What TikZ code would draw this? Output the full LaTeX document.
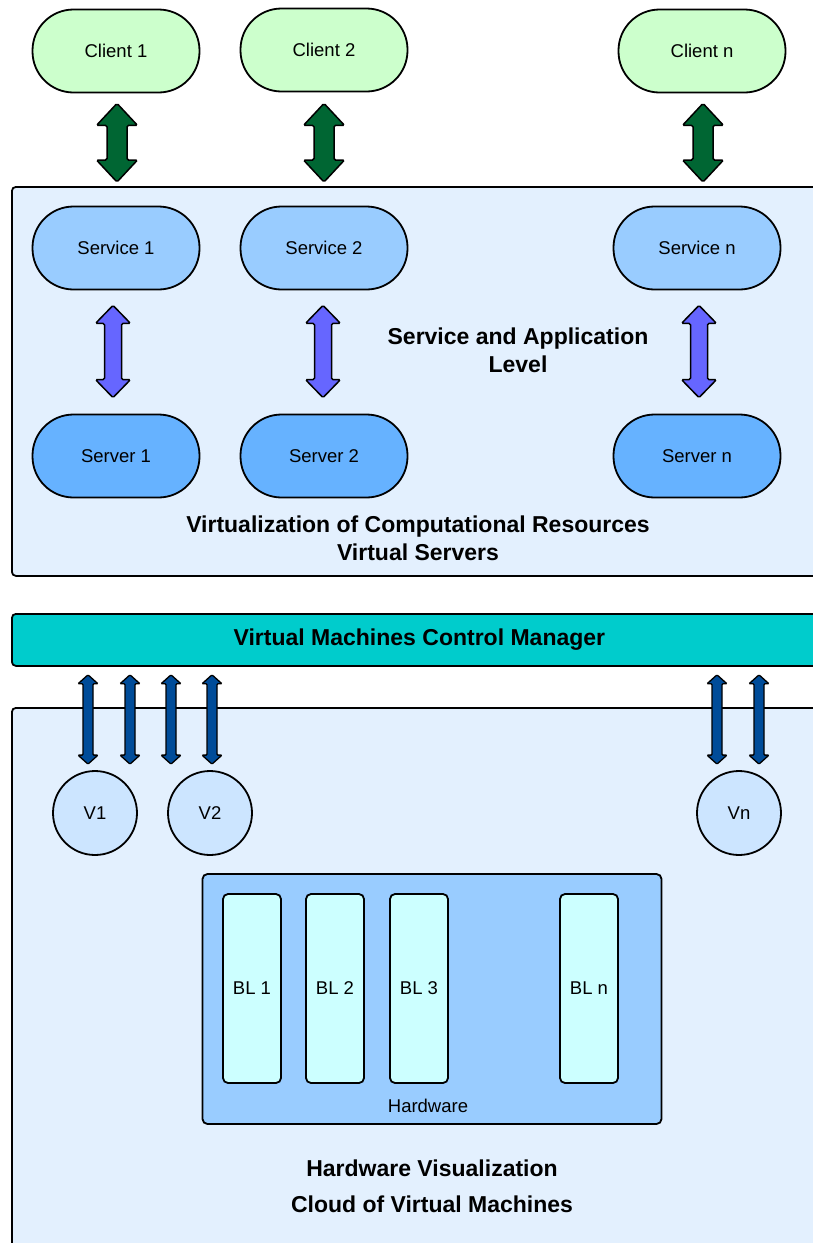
\documentclass[tikz,border=0pt]{standalone}
\usepackage{fontspec}
\setmainfont{Liberation Sans}
\usetikzlibrary{calc}
\definecolor{panelfill}{HTML}{E3F0FE}
\definecolor{clientfill}{HTML}{CCFFCC}
\definecolor{servicefill}{HTML}{99CCFF}
\definecolor{serverfill}{HTML}{66B2FF}
\definecolor{vfill}{HTML}{CCE5FF}
\definecolor{blfill}{HTML}{CCFFFF}
\definecolor{mgrfill}{HTML}{00CCCC}
\definecolor{greenarr}{HTML}{006633}
\definecolor{purplearr}{HTML}{6666FF}
\definecolor{bluearr}{HTML}{004C99}
\newcommand\dblarr[6]{\path[#1] let \p1=(#2), \p2=(#3) in
  (\x1,\y1) -- (\x1+#5,\y1-#6) -- (\x1+#4,\y1-#6) -- (\x1+#4,\y2+#6) -- (\x1+#5,\y2+#6)
  -- (\x1,\y2) -- (\x1-#5,\y2+#6) -- (\x1-#4,\y2+#6) -- (\x1-#4,\y1-#6) -- (\x1-#5,\y1-#6) -- cycle;}
\tikzset{
  outl/.style={draw=black, line width=1.8pt},
  reg/.style={font=\fontsize{18.5}{22}\selectfont},
  boldlbl/.style={font=\fontsize{23}{28}\selectfont\bfseries, align=center},
  pill/.style={outl, reg, rectangle, rounded corners=41pt, minimum width=167pt, minimum height=83pt},
  client/.style={pill, fill=clientfill},
  service/.style={pill, fill=servicefill},
  server/.style={pill, fill=serverfill},
  panel/.style={outl, fill=panelfill, rounded corners=4pt, anchor=north west},
  vm/.style={outl, reg, circle, fill=vfill, minimum size=84pt, inner sep=0pt},
  blade/.style={outl, reg, fill=blfill, rounded corners=5pt, minimum width=58pt, minimum height=189pt},
  garrow/.style={draw=black, line width=1.5pt, fill=greenarr, rounded corners=1.5pt},
  parrow/.style={draw=black, line width=1.5pt, fill=purplearr, rounded corners=1.5pt},
  barrow/.style={draw=black, line width=1.3pt, fill=bluearr, rounded corners=1pt},
}
\begin{document}
\begin{tikzpicture}[x=1pt, y=-1pt]
\useasboundingbox (0,0) rectangle (813,1243);
\clip (0,0) rectangle (813,1243);
% panels
\node[panel, minimum width=830pt, minimum height=389pt] (upper) at (11,186) {};
\node[panel, fill=mgrfill, minimum width=815pt, minimum height=52pt, boldlbl] (mgr) at (11,613) {Virtual Machines Control Manager};
\node[panel, minimum width=830pt, minimum height=600pt] (lower) at (11,707) {};
% clients
\node[client] (c1) at (116,51) {Client 1};
\node[client] (c2) at (324,50) {Client 2};
\node[client] (cn) at (702,51) {Client n};
% services
\node[service] (s1) at (116,248) {Service 1};
\node[service] (s2) at (324,248) {Service 2};
\node[service] (sn) at (697,248) {Service n};
% servers
\node[server] (v1) at (116,456) {Server 1};
\node[server] (v2) at (324,456) {Server 2};
\node[server] (vn) at (697,456) {Server n};
% labels
\node[boldlbl] (lvl) at (518,350) {Service and Application\\Level};
\node[boldlbl] (virt) at (418,538) {Virtualization of Computational Resources\\Virtual Servers};
% virtual machines
\node[vm] (V1) at (95,813) {V1};
\node[vm] (V2) at (210,813) {V2};
\node[vm] (Vn) at (739,813) {Vn};
% hardware
\node[outl, fill=servicefill, rounded corners=5pt, minimum width=459pt, minimum height=250pt] (hw) at (432,999) {};
\node[reg] (hwl) at (428,1106) {Hardware};
\node[blade] (b1) at (252,988.5) {BL 1};
\node[blade] (b2) at (335,988.5) {BL 2};
\node[blade] (b3) at (419,988.5) {BL 3};
\node[blade] (bn) at (589,988.5) {BL n};
\node[boldlbl] (hv) at (432,1168) {Hardware Visualization};
\node[boldlbl] (cv) at (432,1204) {Cloud of Virtual Machines};
% green arrows
\dblarr{garrow}{$(c1.south)+(1,10)$}{$(c1.south |- upper.north)+(1,-4)$}{10pt}{20.5pt}{22pt}
\dblarr{garrow}{$(c2.south)+(0,11)$}{$(c2.south |- upper.north)+(0,-4)$}{10pt}{20.5pt}{22pt}
\dblarr{garrow}{$(cn.south)+(1,10)$}{$(cn.south |- upper.north)+(1,-4)$}{10pt}{20.5pt}{22pt}
% purple arrows
\dblarr{parrow}{$(s1.south)+(-3,15)$}{$(v1.north)+(-3,-16)$}{8.5pt}{17.5pt}{18pt}
\dblarr{parrow}{$(s2.south)+(-1,15)$}{$(v2.north)+(-1,-16)$}{8.5pt}{17.5pt}{18pt}
\dblarr{parrow}{$(sn.south)+(2,15)$}{$(vn.north)+(2,-16)$}{8.5pt}{17.5pt}{18pt}
% blue arrows
\dblarr{barrow}{$(V1.north |- mgr.south)+(-7,8)$}{$(V1.north)+(-7,-6)$}{5pt}{10pt}{9pt}
\dblarr{barrow}{$(V1.north |- mgr.south)+(35,8)$}{$(V1.north)+(35,-6)$}{5pt}{10pt}{9pt}
\dblarr{barrow}{$(V2.north |- mgr.south)+(-39,8)$}{$(V2.north)+(-39,-6)$}{5pt}{10pt}{9pt}
\dblarr{barrow}{$(V2.north |- mgr.south)+(2,8)$}{$(V2.north)+(2,-6)$}{5pt}{10pt}{9pt}
\dblarr{barrow}{$(Vn.north |- mgr.south)+(-22,8)$}{$(Vn.north)+(-22,-6)$}{5pt}{10pt}{9pt}
\dblarr{barrow}{$(Vn.north |- mgr.south)+(20,8)$}{$(Vn.north)+(20,-6)$}{5pt}{10pt}{9pt}
\end{tikzpicture}
\end{document}
